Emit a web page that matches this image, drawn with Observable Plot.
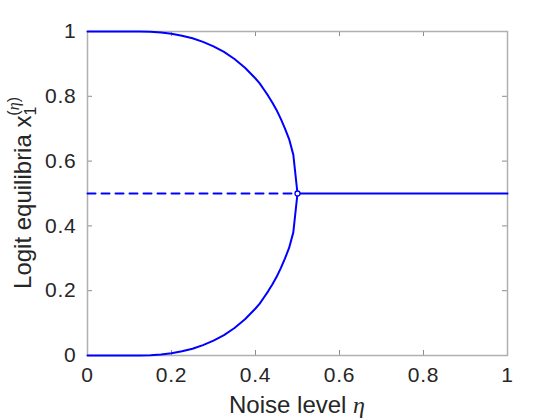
<!DOCTYPE html>
<html>
<head>
<meta charset="utf-8">
<script src="https://cdn.jsdelivr.net/npm/d3@7"></script>
<script src="https://cdn.jsdelivr.net/npm/@observablehq/plot@0.6"></script>
<style>
  html, body { margin: 0; padding: 0; background: #fff; }
  #chart svg { display: block; }
</style>
</head>
<body>
<div id="chart"></div>
<script>
// Noise level η (x) sampled along the bifurcating branches
const eta = [0, 0.05, 0.1, 0.125, 0.15, 0.175, 0.2, 0.225, 0.25, 0.275, 0.3, 0.325, 0.35, 0.375, 0.4, 0.41, 0.42, 0.43, 0.44, 0.45, 0.46, 0.47, 0.48, 0.49, 0.5];
// Upper stable branch x1
const upperBranch = [1.0, 1.0, 1.0, 0.9998, 0.999, 0.997, 0.993, 0.987, 0.979, 0.968, 0.954, 0.937, 0.915, 0.888, 0.855, 0.840, 0.821, 0.802, 0.781, 0.758, 0.731, 0.701, 0.668, 0.620, 0.5];
// Lower stable branch x1
const lowerBranch = [0.0, 0.0, 0.0, 0.0002, 0.001, 0.003, 0.007, 0.013, 0.021, 0.032, 0.046, 0.063, 0.085, 0.112, 0.145, 0.160, 0.179, 0.198, 0.219, 0.242, 0.269, 0.299, 0.332, 0.380, 0.5];
// Unstable symmetric equilibrium (dashed)
const unstableEta = [0, 0.5];
const unstableVal = [0.5, 0.5];
// Stable symmetric equilibrium (solid)
const stableEta = [0.5, 1];
const stableVal = [0.5, 0.5];
// Bifurcation point marker
const bifEta = [0.5];
const bifVal = [0.5];
// Tick values and labels
const xTicks = [0, 0.2, 0.4, 0.6, 0.8, 1];
const xTickLabels = ["0", "0.2", "0.4", "0.6", "0.8", "1"];
const yTicks = [0, 0.2, 0.4, 0.6, 0.8, 1];
const yTickLabels = ["0", "0.2", "0.4", "0.6", "0.8", "1"];

const upperData = eta.map((e, i) => ({x: e, y: upperBranch[i]}));
const lowerData = eta.map((e, i) => ({x: e, y: lowerBranch[i]}));
const unstableData = unstableEta.map((e, i) => ({x: e, y: unstableVal[i]}));
const stableData = stableEta.map((e, i) => ({x: e, y: stableVal[i]}));
const bifData = bifEta.map((e, i) => ({x: e, y: bifVal[i]}));

const W = 560, H = 420;
const mL = 87, mR = 53, mT = 31, mB = 65;
const innerH = H - mT - mB, innerW = W - mL - mR;
const tickLen = 5;
const axisColor = "#b0b0b0";
const tickColor = "#8c8c8c";
const textColor = "#262626";
const blue = "#0000ff";
const font = "'Liberation Sans', Arial, Helvetica, sans-serif";
const tickFont = 21;
const labelFont = 24;

const plot = Plot.plot({
  width: W,
  height: H,
  marginLeft: mL,
  marginRight: mR,
  marginTop: mT,
  marginBottom: mB,
  style: {fontFamily: font, fontSize: tickFont + "px", background: "#fff", overflow: "visible"},
  x: {domain: [0, 1]},
  y: {domain: [0, 1]},
  marks: [
    // inward ticks on all four sides
    Plot.tickX(xTicks, {x: d => d, insetTop: innerH - tickLen, stroke: tickColor}),
    Plot.tickX(xTicks, {x: d => d, insetBottom: innerH - tickLen, stroke: tickColor}),
    Plot.tickY(yTicks, {y: d => d, insetRight: innerW - tickLen, stroke: tickColor}),
    Plot.tickY(yTicks, {y: d => d, insetLeft: innerW - tickLen, stroke: tickColor}),
    Plot.frame({stroke: axisColor, strokeWidth: 1.5}),
    Plot.axisX({ticks: xTicks, tickSize: 0, tickPadding: 12, fontSize: tickFont, label: null,
      tickFormat: d => xTickLabels[xTicks.indexOf(d)], fill: textColor}),
    Plot.axisY({ticks: yTicks, tickSize: 0, tickPadding: 11, fontSize: tickFont, label: null,
      tickFormat: d => yTickLabels[yTicks.indexOf(d)], fill: textColor}),
    Plot.line(unstableData, {x: "x", y: "y", stroke: blue, strokeWidth: 2, strokeDasharray: "8,6"}),
    Plot.line(stableData, {x: "x", y: "y", stroke: blue, strokeWidth: 2}),
    Plot.line(upperData, {x: "x", y: "y", stroke: blue, strokeWidth: 2}),
    Plot.line(lowerData, {x: "x", y: "y", stroke: blue, strokeWidth: 2}),
    Plot.dot(bifData, {x: "x", y: "y", r: 2.5, stroke: blue, fill: "#fff", strokeWidth: 1.3})
  ]
});

const svg = d3.select(plot);
svg.selectAll("g[aria-label$='tick label'] text")
  .style("font-size", tickFont + "px")
  .style("letter-spacing", "0.8px");

// x label: Noise level η
const xl = svg.append("text")
  .attr("x", mL + innerW / 2)
  .attr("y", 413)
  .attr("text-anchor", "middle")
  .attr("font-family", font)
  .attr("font-size", labelFont)
  .attr("fill", textColor);
xl.append("tspan").text("Noise level ");
xl.append("tspan").attr("font-family", "'Liberation Serif', 'Times New Roman', serif")
  .attr("font-style", "italic").text("η");

// y label: Logit equilibria x_1^(η)
const yl = svg.append("text")
  .attr("transform", `translate(31,${mT + innerH / 2}) rotate(-90)`)
  .attr("text-anchor", "middle")
  .attr("font-family", font)
  .attr("font-size", labelFont)
  .attr("fill", textColor);
yl.append("tspan").text("Logit equilibria x");
yl.append("tspan").attr("font-size", 16).attr("dy", 5).text("1");
yl.append("tspan").attr("font-size", 16).attr("dx", -9).attr("dy", -17).text("(");
yl.append("tspan").attr("font-size", 16)
  .attr("font-family", "'Liberation Serif', 'Times New Roman', serif")
  .attr("font-style", "italic").text("η");
yl.append("tspan").attr("font-size", 16).text(")");

document.getElementById("chart").appendChild(plot);
</script>
</body>
</html>
